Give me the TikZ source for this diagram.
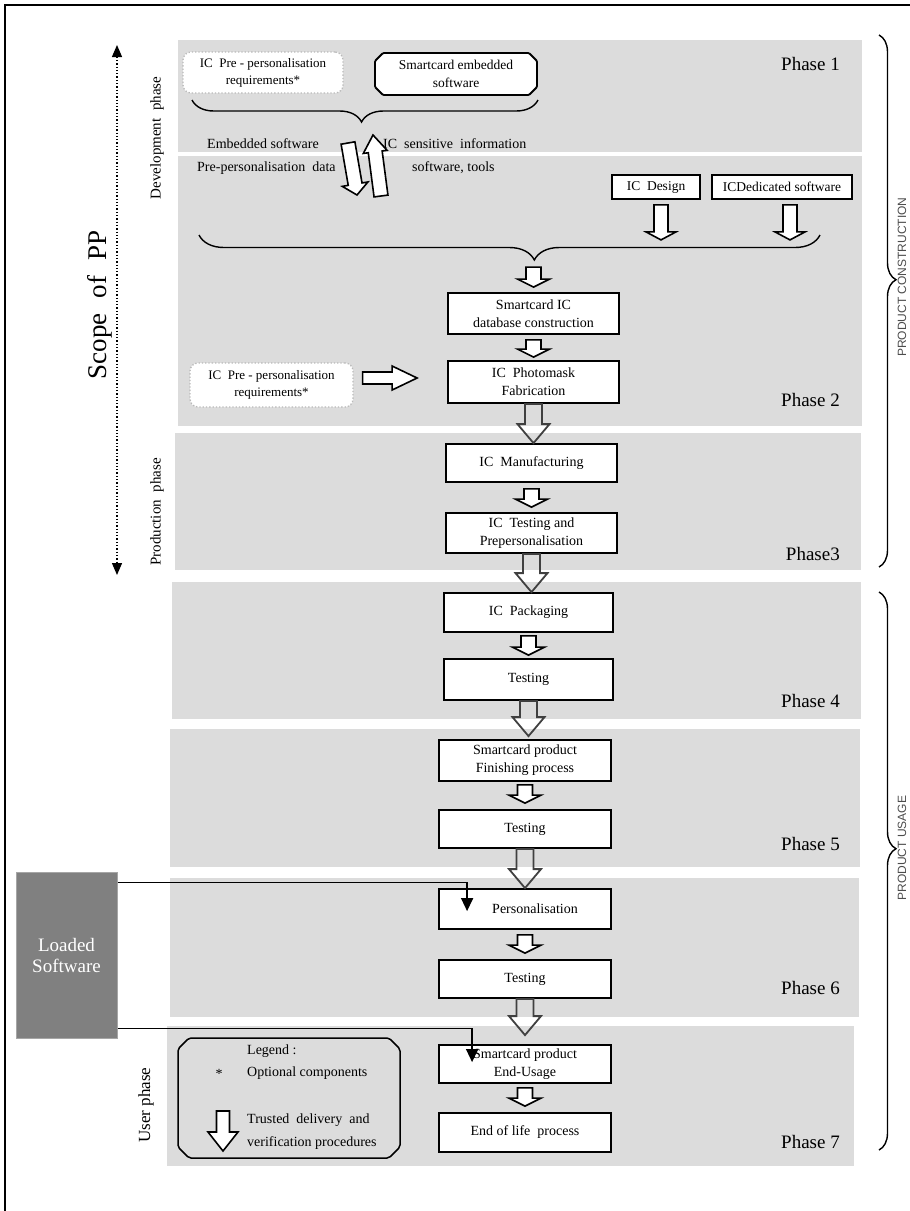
\documentclass[tikz,border=0pt]{standalone}
\usepackage{fontspec}
\setmainfont{Liberation Serif}
\newfontfamily\sansf{Liberation Sans}
\usetikzlibrary{calc,decorations.pathreplacing,arrows.meta}
\definecolor{bandgray}{RGB}{220,220,220}
\definecolor{lsgray}{RGB}{128,128,128}
\newcommand{\blkarrow}[6]{%
  \path #2 coordinate (ha-s);
  \path #3 coordinate (ha-e);
  \path ($(ha-e)!#6!(ha-s)$) coordinate (ha-b);
  \draw[#1] ($(ha-s)!#4!90:(ha-e)$) -- ($(ha-b)!#4!90:(ha-e)$) -- ($(ha-b)!#5!90:(ha-e)$) -- (ha-e) -- ($(ha-b)!#5!-90:(ha-e)$) -- ($(ha-b)!#4!-90:(ha-e)$) -- ($(ha-s)!#4!-90:(ha-e)$) -- cycle;}
% chamfered outline between two named corners: #1 top-left, #2 bottom-right, #3 chamfer, #4 style
\newcommand{\chambox}[4]{%
  \path[#4] let \p1=(#1), \p2=(#2) in
    (\x1+#3,\y1) -- (\x2-#3,\y1) -- (\x2,\y1-#3) -- (\x2,\y2+#3) -- (\x2-#3,\y2) -- (\x1+#3,\y2) -- (\x1,\y2+#3) -- (\x1,\y1-#3) -- cycle;}
\begin{document}
\begin{tikzpicture}[x=1pt,y=-1pt,
  bx/.style={draw,line width=1.8pt,fill=white,inner sep=0pt,align=center,font=\fontsize{14}{18}\selectfont},
  dotbx/.style={draw=gray!55,dotted,line width=1.3pt,fill=white,rounded corners=8pt,inner sep=0pt,align=center,font=\fontsize{13}{17}\selectfont},
  band/.style={fill=bandgray,draw=none},
  phase/.style={font=\fontsize{19}{22}\selectfont,anchor=base east,inner sep=0pt},
  lbl/.style={font=\fontsize{14}{17}\selectfont,inner sep=0pt},
  side/.style={font=\fontsize{15}{18}\selectfont,rotate=90,inner sep=0pt},
  smallarr/.style={draw=black,line width=1.6pt,fill=white,line join=miter},
  bigarr/.style={draw=black!75,line width=1.8pt,line join=miter},
  bracestyle/.style={line width=1.4pt,decorate},
  feed/.style={line width=1.5pt,-{Triangle[length=13pt,width=12pt]}}
]
\useasboundingbox (0,0) rectangle (910,1211);
% frame
\draw[line width=2.5pt] (5,1220) -- (5,5) -- (920,5);
% bands
\fill[band] (178,40) rectangle (862,152);
\fill[band] (178,156) rectangle (862,426);
\fill[band] (175,433) rectangle (861,570);
\fill[band] (172,582) rectangle (861,719);
\fill[band] (170,729) rectangle (860,867);
\fill[band] (170,878) rectangle (859,1017);
\fill[band] (167,1026) rectangle (854,1166);
% phase labels
\node[phase] (ph1) at (840,70) {Phase 1};
\node[phase] (ph2) at (840,406) {Phase 2};
\node[phase] (ph3) at (840,560) {Phase3};
\node[phase] (ph4) at (840,707) {Phase 4};
\node[phase] (ph5) at (840,850) {Phase 5};
\node[phase] (ph6) at (840,994) {Phase 6};
\node[phase] (ph7) at (840,1148) {Phase 7};
% phase 1
\node[dotbx,minimum width=160pt,minimum height=41pt] (pre1) at (263,72.5) {IC\ \ Pre - personalisation\\requirements*};
\coordinate (sceNW) at (375,53);
\coordinate (sceSE) at (537,95);
\chambox{sceNW}{sceSE}{8pt}{draw,fill=white,line width=1.8pt,rounded corners=1pt}
\node[inner sep=0pt,align=center,font=\fontsize{13.5}{18}\selectfont] (sce) at ($(sceNW)!0.5!(sceSE)$) {Smartcard embedded\\software};
\draw[bracestyle,decoration={brace,amplitude=22pt,mirror,aspect=0.49}] (192,100) -- (538,100);
\node[lbl,anchor=west] (es) at (207,144) {Embedded software};
\node[lbl,anchor=west] (ics) at (383,144) {IC\ \ sensitive\ \ information};
\node[lbl,anchor=west] (ppd) at (197,168) {Pre-personalisation\ \ data};
\node[lbl,anchor=west] (swt) at (412,168) {software, tools};
\coordinate (dA) at (348,143);
\coordinate (dB) at (357,195);
\coordinate (uA) at (381,196);
\coordinate (uB) at (373,135);
\blkarrow{smallarr}{(dA)}{(dB)}{7pt}{13pt}{11pt}
\blkarrow{smallarr}{(uA)}{(uB)}{7pt}{12pt}{17pt}
% phase 2
\node[bx,minimum width=88pt,minimum height=24pt,font=\fontsize{13.5}{17}\selectfont] (icd) at (656,187) {IC\ \ Design};
\node[bx,minimum width=140pt,minimum height=24pt,font=\fontsize{13.5}{17}\selectfont] (icds) at (782,187) {ICDedicated software};
\blkarrow{smallarr}{($(icd.south)+(5,5)$)}{($(icd.south)+(5,40)$)}{7pt}{15pt}{8pt}
\blkarrow{smallarr}{($(icds.south)+(8,5)$)}{($(icds.south)+(8,40)$)}{7pt}{15pt}{8pt}
\draw[bracestyle,decoration={brace,amplitude=25pt,mirror,aspect=0.54}] (199,235) -- (820,235);
\node[bx,minimum width=171pt,minimum height=41pt] (db) at (533.5,313.5) {Smartcard IC\\database construction};
\node[bx,minimum width=171pt,minimum height=42pt] (pm) at (533.5,382) {IC\ \ Photomask\\Fabrication};
\node[dotbx,minimum width=163pt,minimum height=44pt] (pre2) at (271.5,385) {IC\ \ Pre - personalisation\\requirements*};
\blkarrow{smallarr}{($(db.north)+(0,-25)$)}{($(db.north)+(0,-5)$)}{7.5pt}{16pt}{8pt}
\blkarrow{smallarr}{($(db.south)+(0,5)$)}{($(pm.north)+(0,-3)$)}{7.5pt}{16pt}{8pt}
\blkarrow{smallarr}{($(pre2.east)+(9,-7)$)}{($(pm.west)+(-30,-4)$)}{6pt}{12pt}{25pt}
% phase 3
\node[bx,minimum width=171pt,minimum height=38pt] (man) at (531.5,463) {IC\ \ Manufacturing};
\node[bx,minimum width=171pt,minimum height=40pt] (ict) at (531.5,533) {IC\ \ Testing and\\Prepersonalisation};
\blkarrow{bigarr}{(pm.south)}{(pm.south |- man.north)}{8.5pt}{16pt}{19pt}
\blkarrow{smallarr}{($(man.south)+(0,6)$)}{($(ict.north)+(0,-5)$)}{7.5pt}{16pt}{8pt}
% phase 4
\node[bx,minimum width=169pt,minimum height=39pt] (pkg) at (528.5,612.5) {IC\ \ Packaging};
\node[bx,minimum width=169pt,minimum height=41pt] (tst4) at (528.5,679.5) {Testing};
\blkarrow{bigarr}{(ict.south)}{(ict.south |- pkg.north)}{8.5pt}{16pt}{19pt}
\blkarrow{smallarr}{($(pkg.south)+(0,3)$)}{($(tst4.north)+(0,-3)$)}{7.5pt}{16pt}{8pt}
% phase 5
\node[bx,minimum width=172pt,minimum height=41pt] (fin) at (525,760.5) {Smartcard product\\Finishing process};
\node[bx,minimum width=172pt,minimum height=38pt] (tst5) at (525,829) {Testing};
\blkarrow{bigarr}{(tst4.south)}{($(tst4.south |- fin.north)+(0,-3)$)}{8.5pt}{16pt}{19pt}
\blkarrow{smallarr}{($(fin.south)+(0,3)$)}{($(tst5.north)+(0,-6)$)}{7.5pt}{16pt}{8pt}
% phase 6
\node[bx,minimum width=172pt,minimum height=40pt] (pers) at (525,909) {\hspace*{20pt}Personalisation};
\node[bx,minimum width=172pt,minimum height=38pt] (tst6) at (525,979) {Testing};
\blkarrow{bigarr}{(tst5.south)}{(pers.north)}{8.5pt}{16pt}{19pt}
\blkarrow{smallarr}{($(pers.south)+(0,5)$)}{($(tst6.north)+(0,-6)$)}{7.5pt}{16pt}{8pt}
% phase 7
\node[bx,minimum width=172pt,minimum height=38pt] (eu) at (525,1064) {Smartcard product\\End-Usage};
\node[bx,minimum width=172pt,minimum height=39pt] (eol) at (525,1132.5) {\raisebox{-6pt}{End of life\ \ process}};
\blkarrow{bigarr}{(tst6.south)}{($(eu.north)+(0,-9)$)}{8.5pt}{16pt}{19pt}
\blkarrow{smallarr}{($(eu.south)+(0,4)$)}{($(eol.north)+(0,-6)$)}{7.5pt}{16pt}{8pt}
% loaded software
\node[fill=lsgray,draw=gray!70,line width=1pt,minimum width=101pt,minimum height=166pt,inner sep=0pt,align=center,text=white,font=\fontsize{19}{21}\selectfont] (ls) at (66.5,955) {Loaded\\Software};
\coordinate (l1end) at ($(pers.north west)+(29,23)$);
\coordinate (l2end) at ($(eu.north west)+(34,18)$);
\draw[feed] ($(ls.north east)+(0,11)$) -| (l1end);
\draw[feed] ($(ls.south east)+(0,-10)$) -| (l2end);
% legend
\coordinate (lgNW) at (178,1038);
\coordinate (lgSE) at (400,1158);
\chambox{lgNW}{lgSE}{11pt}{draw,line width=1.5pt,rounded corners=2pt}
\node[lbl,anchor=west] (lgt) at (247,1051) {Legend :};
\node[lbl] (lgs) at (219,1074) {*};
\node[lbl,anchor=west] (lgo) at (247,1073) {Optional components};
\node[lbl,anchor=west] (lgtr) at (247,1120) {Trusted\ \ delivery\ \ and};
\node[lbl,anchor=west] (lgv) at (247,1143) {verification procedures};
\coordinate (lgA) at (223,1111);
\coordinate (lgB) at (223,1151);
\blkarrow{smallarr}{(lgA)}{(lgB)}{6.5pt}{15pt}{19pt}
% left labels
\node[side] (dev) at (157,138) {Development\ \ phase};
\node[side] (prod) at (157,512) {Production\ \ phase};
\node[side,font=\fontsize{17}{20}\selectfont] (usr) at (146,1105) {User phase};
\node[rotate=90,inner sep=0pt,font=\fontsize{27}{30}\selectfont] (scope) at (100,305) {Scope\hspace{0.3em} of\hspace{0.3em} PP};
\coordinate (scT) at (117,45);
\coordinate (scB) at (117,575);
\draw[dotted,line width=1.3pt,{Triangle[length=12pt,width=10pt]}-{Triangle[length=12pt,width=10pt]}] (scT) -- (scB);
% right braces
\draw[bracestyle,decoration={brace,amplitude=17pt,aspect=0.46}] (879,35) -- (879,567);
\draw[bracestyle,decoration={brace,amplitude=17pt,aspect=0.46}] (879,592) -- (879,1150);
\node[rotate=90,inner sep=0pt,text=black!70,font=\sansf\fontsize{12}{14}\selectfont] (pc) at (902,277) {PRODUCT CONSTRUCTION};
\node[rotate=90,inner sep=0pt,text=black!70,font=\sansf\fontsize{12}{14}\selectfont] (pu) at (902,848) {PRODUCT USAGE};
\end{tikzpicture}
\end{document}
